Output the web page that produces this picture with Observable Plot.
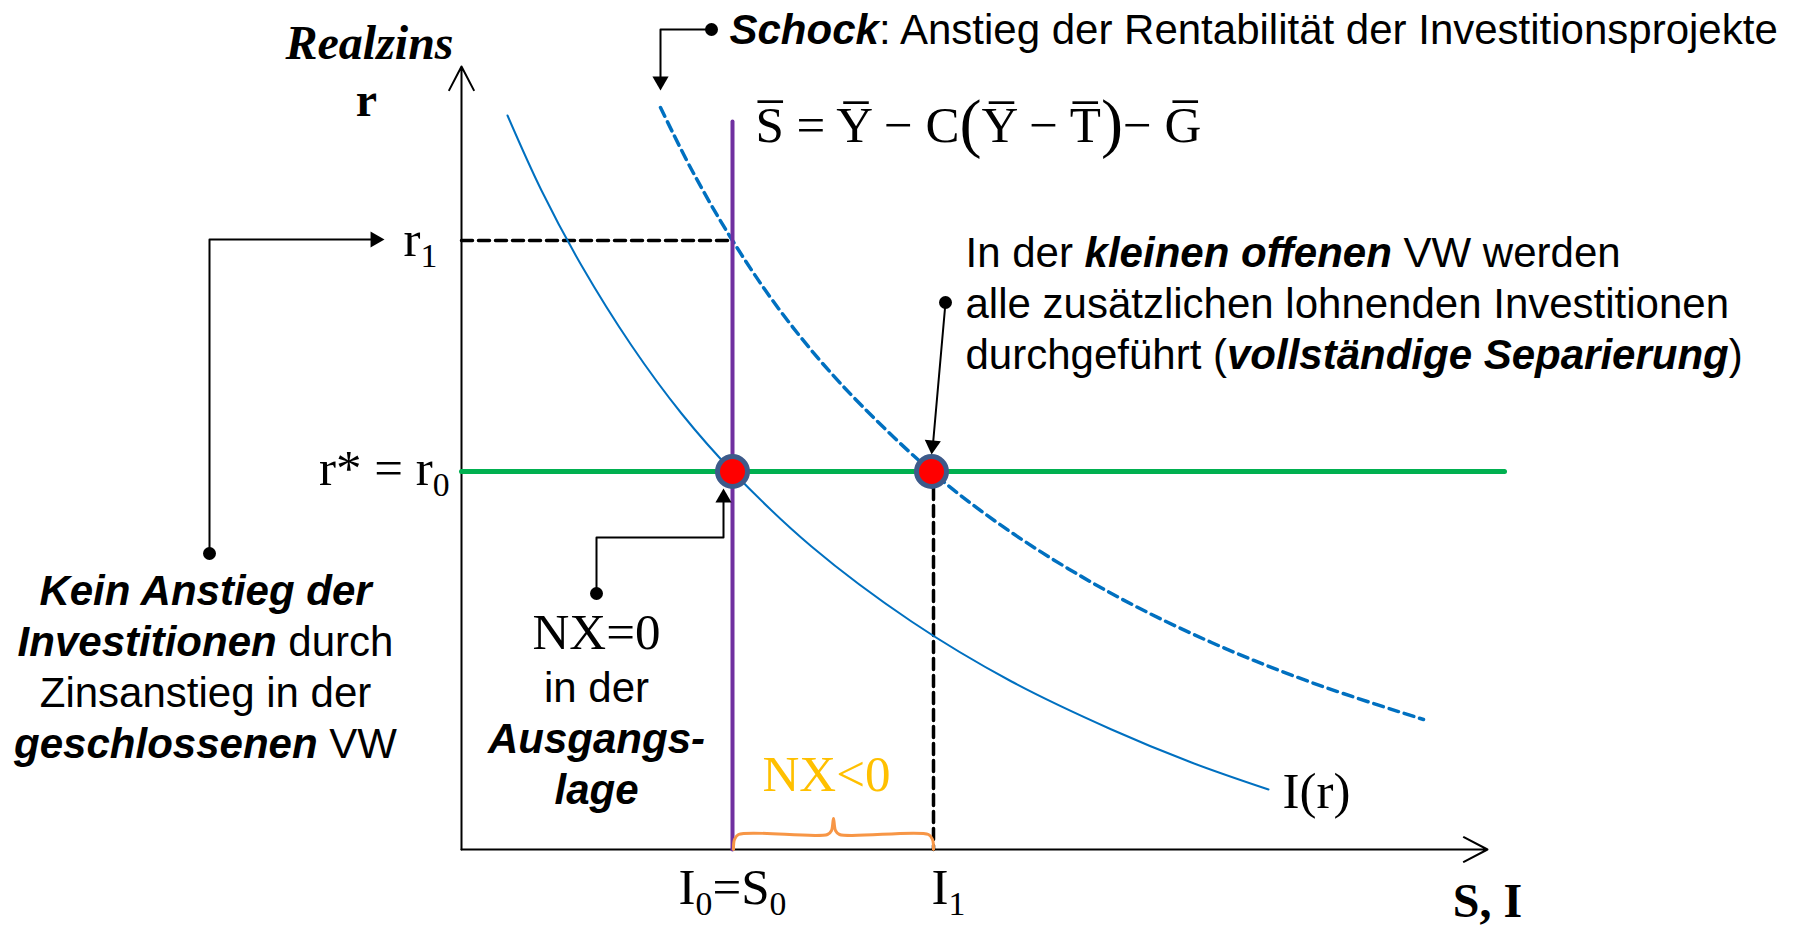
<!DOCTYPE html>
<html>
<head>
<meta charset="utf-8">
<script src="https://cdn.jsdelivr.net/npm/d3@7"></script>
<script src="https://cdn.jsdelivr.net/npm/@observablehq/plot@0.6"></script>
<style>
  html, body { margin: 0; padding: 0; background: #fff; }
  #chart svg { display: block; }
</style>
</head>
<body>
<div id="chart"></div>
<script>
// ---------- data (abstract units: x = S, I ; y = r) ----------
const I0 = 2.71, I1 = 4.72, r0 = 3.78, r1 = 6.09;

// investment curve I(r)
const investX = [0.46, 0.80, 1.20, 1.70, 2.20, 2.71, 3.50, 4.50, 5.50, 6.50, 7.30, 8.07];
const investY = [7.34, 6.59, 5.84, 5.04, 4.36, 3.78, 3.03, 2.28, 1.68, 1.20, 0.87, 0.60];
// shifted investment curve after the shock (dashed)
const shockX = [1.99, 2.30, 2.71, 3.20, 3.80, 4.70, 5.50, 6.50, 7.50, 8.50, 9.62];
const shockY = [7.42, 6.80, 6.09, 5.37, 4.65, 3.78, 3.17, 2.56, 2.07, 1.67, 1.30];

const savingTop = 7.28;      // top of the vertical S line
const worldRateEnd = 10.43;  // right end of r* line
const axisXEnd = 10.26, axisYEnd = 7.83;

// curly brace under NX<0
const braceX = [2.72, 2.73, 2.77, 3.66, 3.70, 3.72, 3.74, 3.78, 4.67, 4.71, 4.72];
const braceY = [0.00, 0.10, 0.15, 0.15, 0.19, 0.31, 0.19, 0.15, 0.15, 0.10, 0.00];

// annotation connectors
const connLeft   = {x: [-2.52, -2.52, -0.82], y: [2.96, 6.10, 6.10]};
const connSchock = {x: [2.50, 1.99, 1.99],    y: [8.20, 8.20, 7.64]};
const connNX     = {x: [1.35, 1.35, 2.62, 2.62], y: [2.56, 3.12, 3.12, 3.55]};
const connSep    = {x: [4.84, 4.71],          y: [5.47, 4.00]};
const connDots   = {x: [-2.52, 2.50, 1.35, 4.84], y: [2.96, 8.20, 2.56, 5.47]};
const arrowHeads = {x: [-0.863, 1.99, 2.62, 4.709], y: [6.10, 7.683, 3.517, 4.043], rot: [90, 180, 0, 185]};

// text labels
const serifLabels = [
  {x: -0.58, y: 5.94,  text: "r{s:1}",          anchor: "start"},
  {x: -0.12, y: 3.65,  text: "r* = r{s:0}",     anchor: "end"},
  {x: 2.71,  y: -0.54, text: "I{s:0}=S{s:0}",   anchor: "middle"},
  {x: 4.87,  y: -0.54, text: "I{s:1}",          anchor: "middle"},
  {x: 8.55,  y: 0.42,  text: "I(r)",            anchor: "middle"},
  {x: 1.35,  y: 2.01,  text: "NX=0",            anchor: "middle"},
  {x: 2.94,  y: 7.08,  text: "S\u0305 = Y\u0305 \u2212 C{p:(}Y\u0305 \u2212 T\u0305{p:)}\u2212 G\u0305", anchor: "start"}
];
const nxNegLabel = [{x: 3.65, y: 0.59, text: "NX<0"}];
const boldSerifLabels = [
  {x: -0.95, y: 7.34,  text: "r",    style: "normal"},
  {x: 10.26, y: -0.67, text: "S, I", style: "normal"},
  {x: -0.92, y: 7.91,  text: "Realzins", style: "italic"}
];
const sansLabels = [
  {x: 2.68,  y: 8.06, text: "{b:Schock}: Anstieg der Rentabilität der Investitionsprojekte", anchor: "start"},
  {x: 5.04,  y: 4.81, text: "In der {b:kleinen offenen} VW werden\nalle zusätzlichen lohnenden Investitionen\ndurchgeführt ({b:vollständige Separierung})", anchor: "start"},
  {x: -2.56, y: 0.92, text: "{b:Kein Anstieg der}\n{b:Investitionen} durch\nZinsanstieg in der\n{b:geschlossenen} VW", anchor: "middle"},
  {x: 1.35,  y: 0.46, text: "in der\n{b:Ausgangs-}\n{b:lage}", anchor: "middle"}
];

// ---------- helpers ----------
const pts = (xs, ys) => xs.map((x, i) => ({x, y: ys[i]}));
const serif = "'Liberation Serif', 'Times New Roman', serif";
const sans = "'Liberation Sans', Arial, sans-serif";

const plot = Plot.plot({
  width: 1807, height: 926,
  marginTop: 0, marginRight: 0, marginBottom: 0, marginLeft: 0,
  x: {domain: [-4.61, 13.46], axis: null},
  y: {domain: [-0.77, 8.49], axis: null},
  style: {background: "#ffffff", overflow: "visible"},
  marks: [
    // axes
    Plot.arrow([{x1: 0, y1: 0, x2: 0, y2: axisYEnd}], {x1: "x1", y1: "y1", x2: "x2", y2: "y2", stroke: "black", strokeWidth: 2, headLength: 20, headAngle: 55}),
    Plot.arrow([{x1: 0, y1: 0, x2: axisXEnd, y2: 0}], {x1: "x1", y1: "y1", x2: "x2", y2: "y2", stroke: "black", strokeWidth: 2, headLength: 20, headAngle: 55}),
    // dashed guides
    Plot.line(pts([0, I0], [r1, r1]), {x: "x", y: "y", stroke: "black", strokeWidth: 3.5, strokeDasharray: "11,6"}),
    Plot.line(pts([I1, I1], [r0, 0]), {x: "x", y: "y", stroke: "black", strokeWidth: 3.5, strokeDasharray: "11,6"}),
    // curves
    Plot.line(pts(investX, investY), {x: "x", y: "y", curve: "catmull-rom", stroke: "#0070C0", strokeWidth: 2}),
    Plot.line(pts(shockX, shockY), {x: "x", y: "y", curve: "catmull-rom", stroke: "#0070C0", strokeWidth: 3.5, strokeDasharray: "10,6"}),
    // saving line and world interest rate
    Plot.line(pts([I0, I0], [0, savingTop]), {x: "x", y: "y", stroke: "#7030A0", strokeWidth: 4}),
    Plot.line(pts([0, worldRateEnd], [r0, r0]), {x: "x", y: "y", stroke: "#00B050", strokeWidth: 5}),
    // brace
    Plot.line(pts(braceX, braceY), {x: "x", y: "y", curve: "catmull-rom", stroke: "#F79646", strokeWidth: 3}),
    // connectors
    Plot.line(pts(connLeft.x, connLeft.y), {x: "x", y: "y", stroke: "black", strokeWidth: 2}),
    Plot.line(pts(connSchock.x, connSchock.y), {x: "x", y: "y", stroke: "black", strokeWidth: 2}),
    Plot.line(pts(connNX.x, connNX.y), {x: "x", y: "y", stroke: "black", strokeWidth: 2}),
    Plot.line(pts(connSep.x, connSep.y), {x: "x", y: "y", stroke: "black", strokeWidth: 2}),
    Plot.dot(pts(connDots.x, connDots.y), {x: "x", y: "y", r: 6.5, fill: "black"}),
    Plot.dot(arrowHeads.x.map((x, i) => ({x, y: arrowHeads.y[i], rot: arrowHeads.rot[i]})),
      {x: "x", y: "y", symbol: "triangle", r: 6, rotate: "rot", fill: "black"}),
    // equilibrium points
    Plot.dot(pts([I0, I1 - 0.02], [r0, r0]), {x: "x", y: "y", r: 15, fill: "#FF0000", stroke: "#3D5A8A", strokeWidth: 5}),
    // texts
    Plot.text(serifLabels, {x: "x", y: "y", text: "text", textAnchor: "start", filter: d => d.anchor === "start", lineAnchor: "bottom", fontFamily: serif, fontSize: 51, fill: "black"}),
    Plot.text(serifLabels, {x: "x", y: "y", text: "text", textAnchor: "end", filter: d => d.anchor === "end", lineAnchor: "bottom", fontFamily: serif, fontSize: 51, fill: "black"}),
    Plot.text(serifLabels, {x: "x", y: "y", text: "text", textAnchor: "middle", filter: d => d.anchor === "middle", lineAnchor: "bottom", fontFamily: serif, fontSize: 51, fill: "black"}),
    Plot.text(nxNegLabel, {x: "x", y: "y", text: "text", lineAnchor: "bottom", fontFamily: serif, fontSize: 51, fill: "#FFC000"}),
    Plot.text(boldSerifLabels, {x: "x", y: "y", text: "text", filter: d => d.style === "normal", lineAnchor: "bottom", fontFamily: serif, fontSize: 48, fontWeight: "bold", fill: "black"}),
    Plot.text(boldSerifLabels, {x: "x", y: "y", text: "text", filter: d => d.style === "italic", lineAnchor: "bottom", fontFamily: serif, fontSize: 48, fontWeight: "bold", fontStyle: "italic", fill: "black"}),
    Plot.text(sansLabels, {x: "x", y: "y", text: "text", textAnchor: "start", filter: d => d.anchor === "start", lineAnchor: "bottom", lineHeight: 1.214, fontFamily: sans, fontSize: 42, fill: "black"}),
    Plot.text(sansLabels, {x: "x", y: "y", text: "text", textAnchor: "middle", filter: d => d.anchor === "middle", lineAnchor: "bottom", lineHeight: 1.214, fontFamily: sans, fontSize: 42, fill: "black"})
  ]
});

document.getElementById("chart").appendChild(plot);

// ---------- rich text: {b:..} bold italic, {s:..} subscript, {p:..} tall paren ----------
const NS = "http://www.w3.org/2000/svg";
const RICH = /\{([bsp]):([^}]*)\}/g;
d3.select(plot).selectAll("text").each(function () {
  const F = parseFloat(getComputedStyle(this).fontSize) || 40;
  const lines = Array.from(this.querySelectorAll("tspan"));
  const targets = lines.length ? lines : [this];
  for (const el of targets) {
    const s = el.textContent;
    if (!/\{[bsp]:/.test(s)) continue;
    el.textContent = "";
    let shift = 0, last = 0, m;
    const add = (txt, kind) => {
      if (!txt) return;
      const ts = document.createElementNS(NS, "tspan");
      ts.textContent = txt;
      let dy = 0;
      if (kind === "s") { dy = 0.22 * F; ts.setAttribute("font-size", (0.66 * F).toFixed(1)); }
      if (kind === "p") { dy = 0.07 * F; ts.setAttribute("font-size", (1.3 * F).toFixed(1)); ts.setAttribute("font-weight", "300"); }
      if (dy !== shift) { ts.setAttribute("dy", (dy - shift).toFixed(1)); shift = dy; }
      if (kind === "b") { ts.setAttribute("font-weight", "bold"); ts.setAttribute("font-style", "italic"); }
      el.appendChild(ts);
    };
    RICH.lastIndex = 0;
    while ((m = RICH.exec(s))) {
      add(s.slice(last, m.index), null);
      add(m[2], m[1]);
      last = RICH.lastIndex;
    }
    add(s.slice(last), null);
  }
});
</script>
</body>
</html>
